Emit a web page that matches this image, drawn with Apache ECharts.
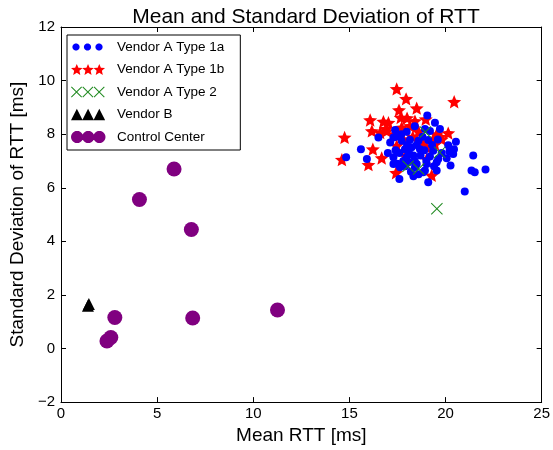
<!DOCTYPE html>
<html>
<head>
<meta charset="utf-8">
<script src="https://cdn.jsdelivr.net/npm/echarts@6/dist/echarts.min.js"></script>
<style>html,body{margin:0;padding:0;background:#fff}#c{width:553px;height:450px}</style>
</head>
<body>
<div id="c"></div>
<script>
// ---- data ----
var seriesNames = ['Vendor A Type 1a', 'Vendor A Type 1b', 'Vendor A Type 2', 'Vendor B', 'Control Center'];
var xTicks = [0, 5, 10, 15, 20, 25];
var yTicks = [-2, 0, 2, 4, 6, 8, 10, 12];
var vendorA1a = [
  [19.05,8.70],[19.45,8.43],[19.71,8.19],[17.38,8.16],[17.98,8.09],[18.93,8.19],[19.19,8.12],[16.51,7.88],
  [17.12,7.69],[17.29,7.88],[17.72,7.75],[18.15,7.79],[18.59,7.75],[19.10,7.78],[20.14,7.59],[20.54,7.72],
  [15.60,7.44],[17.89,7.44],[18.24,7.51],[18.67,7.44],[19.36,7.38],[20.44,7.44],[14.83,7.14],[15.91,7.07],
  [17.29,7.14],[17.98,7.14],[18.33,7.20],[19.19,7.17],[19.62,7.07],[20.06,7.10],[20.40,7.26],[21.44,7.20],
  [17.29,6.89],[18.07,6.95],[18.50,6.89],[19.02,6.89],[19.54,6.95],[17.63,6.77],[18.41,6.77],[18.93,6.64],
  [19.54,6.64],[20.26,6.83],[21.35,6.64],[21.52,6.58],[22.08,6.68],[18.33,6.43],[18.84,6.58],[19.10,6.21],
  [21.00,5.86],[17.6,7.3],[17.8,7.0],[18.0,7.6],[18.4,7.0],[18.7,7.2],[18.2,6.6],[17.5,6.9],[18.9,7.4],
  [19.3,7.6],[19.0,7.0],[17.4,7.4],[18.6,6.5],[19.4,6.8],[17.7,8.0],[18.4,8.3],[18.8,7.9],[19.6,7.8],
  [18.1,7.3],[17.9,6.8],[19.8,7.3],[20.2,7.35],[18.5,7.6],[17.0,7.3],[17.4,7.9],[17.6,6.33]
];
var vendorA1b = [
  [17.46,9.69],[17.95,9.32],[20.45,9.21],[17.58,8.90],[18.50,8.97],[16.08,8.53],[16.77,8.47],[17.03,8.43],
  [17.67,8.62],[18.41,8.49],[18.97,8.56],[18.15,8.31],[16.17,8.12],[16.60,8.06],[16.94,8.12],[17.72,8.25],
  [14.75,7.88],[20.14,8.04],[19.54,8.00],[19.36,7.81],[19.80,7.81],[17.46,7.57],[16.22,7.44],[19.02,7.51],
  [16.68,7.11],[14.61,7.05],[15.99,6.86],[17.43,6.56],[19.28,6.46],[19.02,7.07],[19.45,7.63],[17.80,7.81],
  [18.3,7.9],[18.8,7.7],[17.9,7.2],[18.6,8.1],[16.9,8.2],[17.3,8.0],[18.0,8.6],[19.7,7.9]
];
var vendorA2 = [[19.55,5.22],[18.95,8.08],[19.70,7.32],[18.05,6.80],[18.6,6.7]];
var vendorB = [[1.40,1.60],[1.45,1.66]];
var controlCenter = [[5.88,6.70],[4.08,5.56],[6.78,4.44],[2.80,1.16],[6.85,1.14],[11.26,1.44],[2.59,0.41],[2.39,0.28]];

// ---- marker geometry helpers ----
function f(n){return n.toFixed(2);}
function circlePts(cx, cy, r){var s='';for(var i=0;i<24;i++){var a=i/24*Math.PI*2;s+=(i?'L':'M')+f(cx+r*Math.cos(a))+','+f(cy+r*Math.sin(a));}return s+'Z';}
function starPts(cx, cy, R, ri){var s='';for(var i=0;i<10;i++){var a=-Math.PI/2+i*Math.PI/5;var r=i%2?ri:R;s+=(i?'L':'M')+f(cx+r*Math.cos(a))+','+f(cy+r*Math.sin(a));}return s+'Z';}
function xPts(cx, cy, h, d){
  var p=[[-h,-h+d],[-h+d,-h],[0,-d],[h-d,-h],[h,-h+d],[d,0],[h,h-d],[h-d,h],[0,d],[-h+d,h],[-h,h-d],[-d,0]];
  return p.map(function(q,i){return (i?'L':'M')+f(cx+q[0])+','+f(cy+q[1]);}).join('')+'Z';
}
function triPts(cx, cy, w, h){return 'M'+f(cx)+','+f(cy-h/2)+'L'+f(cx+w/2)+','+f(cy+h/2)+'L'+f(cx-w/2)+','+f(cy+h/2)+'Z';}
var IW = 41, IH = 14, CX = [5, 16.5, 28], CY = 7;
function icon(fn){return 'path://M0,0M'+IW+','+IH+CX.map(function(c){return fn(c);}).join('');}

var starSymbol = 'path://' + starPts(0, 0, 10, 4.5);
var xSymbol = 'path://' + xPts(0, 0, 10, 1.2);

var font = 'Liberation Sans, Arial, sans-serif';
var chart = echarts.init(document.getElementById('c'));
var grid = {left: 60, right: 11, top: 27, bottom: 45};
var minus = function(v){return String(v).replace('-', '\u2212');};
var frameLine = {onZero: false, lineStyle: {color: '#000', width: 1}};
var frameTick = {inside: true, length: 5, lineStyle: {color: '#000'}};

chart.setOption({
  animation: false,
  backgroundColor: '#fff',
  title: {text: 'Mean and Standard Deviation of RTT', left: 301, textAlign: 'center', top: 2,
    textStyle: {fontFamily: font, fontSize: 21, fontWeight: 'normal', color: '#000'}},
  grid: grid,
  legend: {
    orient: 'vertical', left: 67, top: 35, itemWidth: IW, itemHeight: IH, itemGap: 8.5,
    padding: [5, 16, 6, 4], borderColor: '#000', borderWidth: 1, backgroundColor: '#fff',
    textStyle: {fontFamily: font, fontSize: 13.5, color: '#000'},
    data: [
      {name: seriesNames[0], icon: icon(function(c){return circlePts(c, CY, 3.6);})},
      {name: seriesNames[1], icon: icon(function(c){return starPts(c, CY+0.5, 6.2, 2.8);})},
      {name: seriesNames[2], icon: icon(function(c){return xPts(c, CY, 5.6, 0.75);})},
      {name: seriesNames[3], icon: icon(function(c){return triPts(c, CY, 12, 12);})},
      {name: seriesNames[4], icon: icon(function(c){return circlePts(c, CY, 6.3);})}
    ]
  },
  xAxis: [
    {type: 'value', min: xTicks[0], max: xTicks[xTicks.length-1], interval: 5, position: 'bottom',
      axisLine: frameLine, axisTick: frameTick,
      axisLabel: {margin: 4, fontFamily: font, fontSize: 15, color: '#000', formatter: minus}, splitLine: {show: false},
      name: 'Mean RTT [ms]', nameLocation: 'middle', nameGap: 18, nameTextStyle: {fontFamily: font, fontSize: 19, color: '#000'}},
    {type: 'value', min: xTicks[0], max: xTicks[xTicks.length-1], interval: 5, position: 'top',
      axisLine: frameLine, axisTick: frameTick,
      axisLabel: {show: false}, splitLine: {show: false}}
  ],
  yAxis: [
    {type: 'value', min: yTicks[0], max: yTicks[yTicks.length-1], interval: 2, position: 'left',
      axisLine: frameLine, axisTick: frameTick,
      axisLabel: {margin: 6, fontFamily: font, fontSize: 15, color: '#000', formatter: minus}, splitLine: {show: false},
      name: 'Standard Deviation of RTT [ms]', nameLocation: 'middle', nameGap: 26, nameTextStyle: {fontFamily: font, fontSize: 19, color: '#000'}},
    {type: 'value', min: yTicks[0], max: yTicks[yTicks.length-1], interval: 2, position: 'right',
      axisLine: frameLine, axisTick: frameTick,
      axisLabel: {show: false}, splitLine: {show: false}}
  ],
  series: [
    {name: seriesNames[1], type: 'scatter', data: vendorA1b, symbol: starSymbol, symbolSize: 14, symbolKeepAspect: true,
      itemStyle: {color: '#ff0000', opacity: 1}},
    {name: seriesNames[0], type: 'scatter', data: vendorA1a, symbol: 'circle', symbolSize: 8,
      itemStyle: {color: '#0000ff', opacity: 1}},
    {name: seriesNames[2], type: 'scatter', data: vendorA2, symbol: xSymbol, symbolSize: 12,
      itemStyle: {color: '#228b22', opacity: 1}},
    {name: seriesNames[3], type: 'scatter', data: vendorB, symbol: 'triangle', symbolSize: 12,
      itemStyle: {color: '#000', opacity: 1}},
    {name: seriesNames[4], type: 'scatter', data: controlCenter, symbol: 'circle', symbolSize: 15,
      itemStyle: {color: '#800080', opacity: 1}}
  ]
});
</script>
</body>
</html>
